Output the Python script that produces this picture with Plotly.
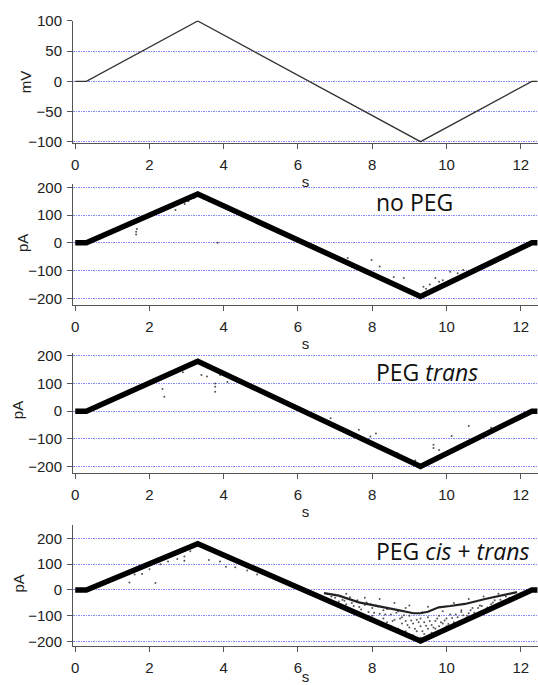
import plotly.graph_objects as go

W, H = 538, 685

# ---------------- data ----------------
# Voltage protocol (mV)
volt_t = [0.0, 0.3, 3.3, 9.3, 12.3, 12.45]
volt_mv = [0, 0, 100, -100, 0, 0]

# Main current traces (pA)
nopeg_t = [0.0, 0.3, 3.3, 9.3, 12.3, 12.45]
nopeg_pa = [0, 0, 176, -193, 0, 0]
trans_t = [0.0, 0.3, 3.3, 9.3, 12.3, 12.45]
trans_pa = [0, 0, 180, -199, 0, 0]
cistrans_t = [0.0, 0.3, 3.3, 9.3, 12.3, 12.45]
cistrans_pa = [0, 0, 179, -197, 0, 0]

# Sparse events, no PEG
nopeg_ev_t = [1.64, 1.64, 1.66, 2.7, 2.95, 3.05, 3.2, 3.45, 3.6, 3.83, 3.95, 4.2,
              7.34, 7.98, 8.2, 8.58, 8.85, 8.98, 9.38, 9.45, 9.55, 9.7, 9.8, 9.9,
              10.1, 10.3, 10.45]
nopeg_ev_pa = [40, 30, 50, 118, 140, 150, 162, 160, 150, 0, 140, 125,
               -55, -62, -85, -123, -127, -176, -158, -165, -150, -127, -140, -135,
               -104, -110, -98]

# Sparse events, PEG trans
trans_ev_t = [2.4, 2.35, 3.4, 3.55, 3.77, 3.77, 3.77, 3.9, 4.1, 2.9,
              6.88, 7.64, 7.95, 8.1, 8.67, 9.16, 9.65, 9.65, 9.8, 10.14, 10.6, 11.2]
trans_ev_pa = [52, 80, 130, 125, 88, 70, 100, 130, 105, 140,
               -25, -67, -91, -80, -151, -178, -121, -133, -140, -89, -53, -60]

# Secondary conductance band, PEG cis + trans
band_t = [6.7, 7.1, 7.64, 8.26, 8.7, 9.11, 9.3, 9.5, 9.79, 10.1, 10.5, 11.04, 11.5, 11.9]
band_pa = [-12, -22, -48, -67, -78, -90, -90, -84, -67, -62, -54, -35, -22, -8]

# Scattered events, PEG cis + trans
cis_ev_t = [1.46, 1.6, 1.8, 2.0, 2.16, 2.3, 2.5, 2.75, 2.94, 2.94, 3.1,
            3.6, 3.9, 4.06, 4.31, 4.63, 4.9,
            6.8, 6.9, 7.0, 7.1, 7.2, 7.3, 7.3, 7.4, 7.5, 7.6, 7.7, 7.8, 7.8, 7.9,
            8.0, 8.0, 8.1, 8.2, 8.2, 8.3, 8.3, 8.4, 8.5, 8.5, 8.6, 8.6, 8.7, 8.7,
            8.8, 8.8, 8.9, 8.9, 9.0, 9.0, 9.0, 9.1, 9.1, 9.2, 9.2, 9.3, 9.3, 9.3,
            9.4, 9.4, 9.5, 9.5, 9.5, 9.6, 9.6, 9.7, 9.7, 9.8, 9.8, 9.9, 10.0,
            10.0, 10.1, 10.2, 10.2, 10.3, 10.4, 10.5, 10.6, 10.6, 10.7, 10.8,
            10.9, 11.0, 11.0, 11.2, 11.3, 11.4, 11.5, 11.6,
            7.25, 7.45, 7.65, 7.85, 8.05, 8.15, 8.35, 8.45, 8.55, 8.65, 8.75,
            8.85, 8.95, 9.05, 9.15, 9.25, 9.35, 9.45, 9.55, 9.65, 9.75, 9.85,
            9.95, 10.05, 10.15, 10.25, 10.35, 10.45, 10.55, 10.65, 10.75, 10.85,
            10.95, 11.1, 11.25, 11.35, 11.45, 11.7, 7.95, 8.4, 8.9, 9.35, 9.9, 10.4]
cis_ev_pa = [29, 60, 62, 80, 27, 100, 110, 120, 113, 130, 150,
             116, 110, 90, 88, 75, 60,
             -15, -25, -30, -45, -38, -55, -15, -28, -62, -40, -75, -58, -30, -85,
             -70, -100, -60, -92, -35, -110, -78, -125, -95, -140, -115, -50, -82,
             -150, -130, -105, -160, -120, -145, -100, -60, -175, -130, -160, -115,
             -185, -140, -110, -170, -125, -150, -105, -65, -165, -135, -120, -150,
             -100, -140, -130, -110, -140, -95, -125, -50, -105, -85, -115, -90,
             -35, -70, -95, -60, -80, -25, -55, -40, -15, -45, -25,
             -42, -50, -66, -48, -88, -64, -95, -72, -120, -88, -110,
             -98, -135, -118, -150, -125, -160, -138, -120, -145, -110, -125,
             -118, -132, -108, -95, -120, -98, -100, -78, -88, -70,
             -62, -68, -48, -60, -38, -30, -55, -74, -70, -86, -82, -78]

# Axis ticks
x_ticks = [0, 2, 4, 6, 8, 10, 12]
mv_ticks = [-100, -50, 0, 50, 100]
pa_ticks = [-200, -100, 0, 100, 200]

panel_labels = ["no PEG", "PEG <i>trans</i>", "PEG <i>cis</i> + <i>trans</i>"]
y_titles = ["mV", "pA", "pA", "pA"]
x_title = "s"

# ---------------- layout helpers ----------------
def py(px):
    return 1 - px / H

x_dom = [73 / W, 1.0]
x_range = [-0.06, 12.465]
panels = [  # (top px, bottom px, y range, ticks)
    (20.5, 142.7, [-101.7, 100.8], mv_ticks),
    (184.0, 305.0, [-224, 212], pa_ticks),
    (352.7, 472.7, [-221.6, 210.8], pa_ticks),
    (525.0, 645.7, [-215.5, 251.4], pa_ticks),
]
ytitle_pos = [(25.5, 81.7), (22, 243), (17.5, 410.7), (17.5, 584)]

AX_COL = "#555555"
TXT_COL = "#222222"
GRID_COL = "#8585ff"
tick_font = dict(family="Liberation Sans, Arial, sans-serif", size=15, color=TXT_COL)

fig = go.Figure()

def add_line(t, v, idx, width, color):
    fig.add_trace(go.Scatter(x=t, y=v, mode="lines", xaxis=f"x{idx}", yaxis=f"y{idx}",
                             line=dict(color=color, width=width), showlegend=False,
                             hoverinfo="skip"))

def add_dots(t, v, idx, size=2.0, color="#555555"):
    fig.add_trace(go.Scatter(x=t, y=v, mode="markers", xaxis=f"x{idx}", yaxis=f"y{idx}",
                             marker=dict(color=color, size=size, line=dict(width=0)),
                             showlegend=False, hoverinfo="skip"))

add_line(volt_t, volt_mv, 1, 1.3, "#333333")

add_dots(nopeg_ev_t, nopeg_ev_pa, 2)
add_line(nopeg_t, nopeg_pa, 2, 5.5, "#000000")

add_dots(trans_ev_t, trans_ev_pa, 3)
add_line(trans_t, trans_pa, 3, 5.5, "#000000")

add_dots(cis_ev_t, cis_ev_pa, 4)
add_line(band_t, band_pa, 4, 2.2, "#222222")
add_line(cistrans_t, cistrans_pa, 4, 5.5, "#000000")

layout = dict(
    width=W, height=H,
    margin=dict(l=0, r=0, t=0, b=0),
    paper_bgcolor="white", plot_bgcolor="white",
    showlegend=False,
)

for i, (top, bot, yr, yt) in enumerate(panels, start=1):
    layout[f"xaxis{i}" if i > 1 else "xaxis"] = dict(
        domain=x_dom, range=x_range, anchor=f"y{i}",
        tickvals=x_ticks, ticks="outside", ticklen=5, tickcolor=AX_COL, tickwidth=1,
        showline=True, linecolor=AX_COL, linewidth=1,
        showgrid=False, zeroline=False, automargin=False,
        tickfont=tick_font, ticklabelstandoff=3,
        title=dict(text=x_title, font=tick_font, standoff=2),
    )
    layout[f"yaxis{i}" if i > 1 else "yaxis"] = dict(
        domain=[py(bot), py(top)], range=yr, anchor=f"x{i}",
        tickvals=yt, ticks="outside", ticklen=5, tickcolor=AX_COL, tickwidth=1,
        showline=True, linecolor=AX_COL, linewidth=1,
        showgrid=True, gridcolor=GRID_COL, gridwidth=1, griddash="1.5px,1px",
        zeroline=False, automargin=False,
        tickfont=tick_font, ticklabelstandoff=2,
    )

fig.update_layout(**layout)

# y-axis titles (rotated)
for txt, (xp, yp) in zip(y_titles, ytitle_pos):
    fig.add_annotation(
        text=txt, xref="paper", yref="paper", x=xp / W, y=py(yp),
        xanchor="center", yanchor="middle", showarrow=False, textangle=-90,
        font=tick_font,
    )

label_y = [202, 372, 551]
for txt, ypx in zip(panel_labels, label_y):
    fig.add_annotation(
        text=txt, xref="paper", yref="paper", x=374 / W, y=py(ypx),
        xanchor="left", yanchor="middle", showarrow=False,
        font=dict(family="Open Sans, sans-serif", size=23, color="#111111"),
    )

fig.write_html("out.html",
               config={"displayModeBar": False},
               post_script="document.body.style.margin='0';document.body.style.overflow='hidden';")
